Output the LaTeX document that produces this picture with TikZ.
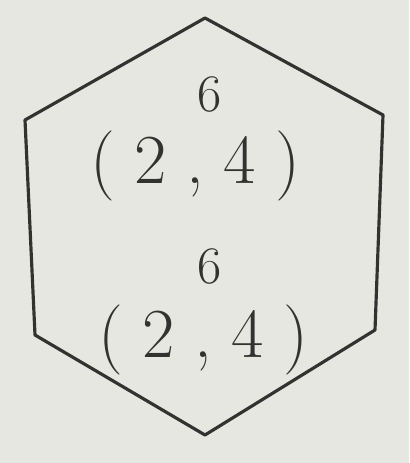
\documentclass[tikz,border=0pt]{standalone}
\usetikzlibrary{positioning}
\definecolor{paper}{RGB}{231,231,226}
\definecolor{pencil}{RGB}{50,50,48}
\begin{document}
\begin{tikzpicture}[x=0.02cm,y=-0.02cm,
  digit/.style={text=pencil, font=\fontsize{30}{34}\selectfont, inner sep=0pt},
  pair/.style={text=pencil, font=\fontsize{40}{44}\selectfont, inner sep=0pt}]
  \fill[paper] (0,0) rectangle (409,463);
  \useasboundingbox (0,0) rectangle (409,463);
  % hexagon outline
  \coordinate (hn) at (205,18);
  \coordinate (hne) at (383,115);
  \coordinate (hse) at (375,330);
  \coordinate (hs) at (205,435);
  \coordinate (hsw) at (35,335);
  \coordinate (hnw) at (25,120);
  \draw[pencil, line width=1.8pt, line join=round]
    (hn) -- (hne) -- (hse) -- (hs) -- (hsw) -- (hnw) -- cycle;
  % labels
  \node[digit] (upperval) at (210,94) {6};
  \node[pair] (upperpair) at (195,166) {(\;2\;,\;4\;)};
  \node[digit] (lowerval) at (210,266) {6};
  \node[pair] (lowerpair) at (203,340) {(\;2\;,\;4\;)};
\end{tikzpicture}
\end{document}
